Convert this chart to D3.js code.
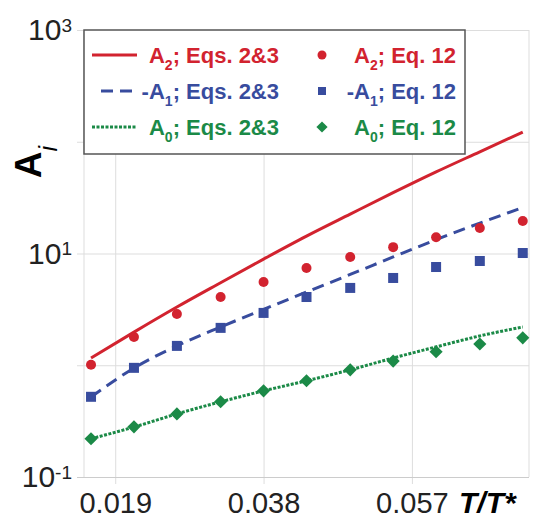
<!DOCTYPE html>
<html>
<head>
<meta charset="utf-8">
<script src="https://cdn.jsdelivr.net/npm/d3@7"></script>
<style>
  body { margin: 0; background: #fff; }
  svg { display: block; font-family: "Liberation Sans", Arial, sans-serif; }
</style>
</head>
<body>
<div id="chart"></div>
<script>
// T/T* values where the coefficients were evaluated
const tRatio = [0.0159, 0.0214, 0.0269, 0.0325, 0.0380, 0.0435, 0.0491, 0.0546, 0.0601, 0.0657, 0.0712];
// Eqs. 2&3 (curves)
const a2Model = [1.16, 1.98, 3.32, 5.48, 8.91, 14.3, 22.5, 35.0, 53.7, 81.3, 122];
const a1Model = [0.52, 0.944, 1.49, 2.20, 3.16, 4.52, 6.49, 9.31, 13.3, 18.7, 25.8];
const a0Model = [0.22, 0.28, 0.367, 0.471, 0.59, 0.726, 0.91, 1.16, 1.46, 1.83, 2.20];
// Eq. 12 (markers)
const a2Eq12 = [1.01, 1.79, 2.88, 4.08, 5.56, 7.42, 9.31, 11.4, 14.0, 16.9, 19.5];
const a1Eq12 = [0.522, 0.948, 1.49, 2.16, 2.94, 4.08, 4.92, 6.04, 7.57, 8.57, 10.1];
const a0Eq12 = [0.22, 0.281, 0.367, 0.471, 0.59, 0.726, 0.91, 1.09, 1.32, 1.55, 1.76];
// ticks
const xTicks = [0.019, 0.038, 0.057];
const yTicks = [0.1, 1, 10, 100, 1000];
const yLabelled = [0.1, 10, 1000];

const width = 534, height = 519
const plotLeft = 84, plotRight = 529, plotTop = 30, plotBottom = 477

const red = "#d2232f", blue = "#384c9e", green = "#1b8a47"

const x = d3.scaleLinear().domain([0.015, 0.072]).range([plotLeft, plotRight])
const y = d3.scaleLog().domain([0.1, 1000]).range([plotBottom, plotTop])

const svg = d3.select("#chart").append("svg")
    .attr("width", width)
    .attr("height", height)

// frame lines at the plot edges
svg.append("g").selectAll("line")
    .data([plotLeft, plotRight])
    .enter().append("line")
    .attr("x1", d => d).attr("x2", d => d)
    .attr("y1", plotTop).attr("y2", plotBottom)
    .attr("stroke", "#dddddd")

// vertical grid + x tick labels
const xAxis = svg.append("g")
    .attr("transform", "translate(0," + (plotBottom + 7) + ")")
    .call(d3.axisBottom(x).tickValues(xTicks).tickSize(-(plotBottom + 7 - plotTop)).tickPadding(8).tickFormat(d3.format(".3f")))
xAxis.select(".domain").remove()
xAxis.selectAll(".tick line").attr("stroke", "#dddddd")
xAxis.selectAll(".tick text")
    .attr("fill", "#222")
    .style("font-size", "29px")

// horizontal grid + y tick labels with superscripts
const yAxis = svg.append("g")
    .attr("transform", "translate(" + (plotLeft - 7) + ",0)")
    .call(d3.axisLeft(y).tickValues(yTicks).tickSize(-(plotRight - plotLeft + 7)).tickPadding(5).tickFormat(() => ""))
yAxis.select(".domain").remove()
yAxis.selectAll(".tick line").attr("stroke", d => d === 0.1 ? "#cccccc" : "#dddddd")
yAxis.selectAll(".tick text")
    .attr("fill", "#222")
    .style("font-size", "30px")
    .each(function (d) {
        if (!yLabelled.includes(d)) return
        const t = d3.select(this)
        t.append("tspan").text("10")
        t.append("tspan").attr("dy", "-0.45em").style("font-size", "19px").text(Math.round(Math.log10(d)))
    })

// curves (Eqs. 2&3)
const line = d3.line()
    .curve(d3.curveMonotoneX)
    .x(d => x(d[0]))
    .y(d => y(d[1]))

const curves = [
    { values: a2Model, color: red, dash: null },
    { values: a1Model, color: blue, dash: "12,7" },
    { values: a0Model, color: green, dash: "3,1.5" }
]
svg.append("g").selectAll("path")
    .data(curves)
    .enter().append("path")
    .attr("d", d => line(tRatio.map((t, i) => [t, d.values[i]])))
    .attr("fill", "none")
    .attr("stroke", d => d.color)
    .attr("stroke-width", 3)
    .attr("stroke-dasharray", d => d.dash)

// markers (Eq. 12)
svg.append("g").selectAll("circle")
    .data(tRatio.map((t, i) => [t, a2Eq12[i]]))
    .enter().append("circle")
    .attr("cx", d => x(d[0]))
    .attr("cy", d => y(d[1]))
    .attr("r", 5)
    .attr("fill", red)

svg.append("g").selectAll("rect")
    .data(tRatio.map((t, i) => [t, a1Eq12[i]]))
    .enter().append("rect")
    .attr("x", d => x(d[0]) - 5)
    .attr("y", d => y(d[1]) - 5)
    .attr("width", 10)
    .attr("height", 10)
    .attr("fill", blue)

const diamond = d3.symbol().type(d3.symbolDiamond2).size(110)
svg.append("g").selectAll("path")
    .data(tRatio.map((t, i) => [t, a0Eq12[i]]))
    .enter().append("path")
    .attr("d", diamond)
    .attr("transform", d => "translate(" + x(d[0]) + "," + y(d[1]) + ")")
    .attr("fill", green)

// legend
const legend = svg.append("g")
legend.append("rect")
    .attr("x", plotLeft).attr("y", plotTop)
    .attr("width", 381).attr("height", 124)
    .attr("fill", "#fff")
    .attr("stroke", "#555")
    .attr("stroke-width", 1.5)

const rows = [
    { sign: "", sub: "2", color: red, dash: null, marker: "circle" },
    { sign: "-", sub: "1", color: blue, dash: "12,7", marker: "square" },
    { sign: "", sub: "0", color: green, dash: "3,1.5", marker: "diamond" }
]
rows.forEach((r, i) => {
    const cy = plotTop + 25 + i * 36
    legend.append("line")
        .attr("x1", r.dash === "12,7" ? 101 : 92).attr("x2", 137)
        .attr("y1", cy).attr("y2", cy)
        .attr("stroke", r.color)
        .attr("stroke-width", 3)
        .attr("stroke-dasharray", r.dash)
    if (r.marker === "circle") {
        legend.append("circle").attr("cx", 322).attr("cy", cy).attr("r", 4.5).attr("fill", r.color)
    } else if (r.marker === "square") {
        legend.append("rect").attr("x", 318).attr("y", cy - 4).attr("width", 8).attr("height", 8).attr("fill", r.color)
    } else {
        legend.append("path").attr("d", d3.symbol().type(d3.symbolDiamond2).size(80))
            .attr("transform", "translate(322," + cy + ")").attr("fill", r.color)
    }
    const labels = [[279, "; Eqs. 2&3"], [456, "; Eq. 12"]]
    labels.forEach(([lx, rest]) => {
        const t = legend.append("text")
            .attr("x", lx).attr("y", cy + 8)
            .attr("text-anchor", "end")
            .attr("fill", r.color)
            .style("font-size", "22px")
            .style("font-weight", "bold")
        t.append("tspan").text(r.sign + "A")
        t.append("tspan").attr("dy", 7).style("font-size", "14px").text(r.sub)
        t.append("tspan").attr("dy", -7).text(rest)
    })
})

// axis titles
const yTitle = svg.append("text")
    .attr("transform", "translate(41,162) rotate(-90)")
    .attr("text-anchor", "middle")
    .style("font-size", "37px")
    .style("font-weight", "bold")
yTitle.append("tspan").text("A")
yTitle.append("tspan").attr("dy", 16).style("font-size", "25px").style("font-style", "italic").style("font-weight", "normal").text("i")

svg.append("text")
    .attr("x", 459).attr("y", 513)
    .style("font-size", "30px")
    .style("font-weight", "bold")
    .style("font-style", "italic")
    .text("T/T*")
</script>
</body>
</html>
